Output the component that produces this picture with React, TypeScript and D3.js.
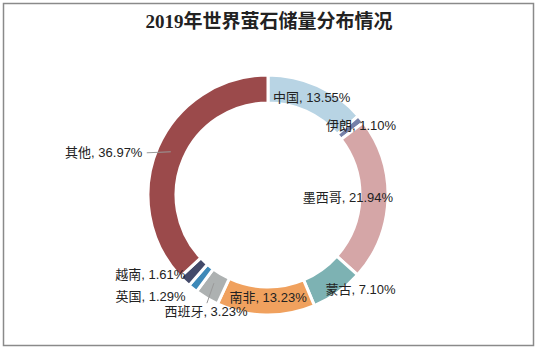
import React from "react";
import * as d3 from "d3";

const countries = ["中国", "伊朗", "墨西哥", "蒙古", "南非", "西班牙", "英国", "越南", "其他"];
const shares = [13.55, 1.1, 21.94, 7.1, 13.23, 3.23, 1.29, 1.61, 36.97];
const colors = ["#b8d4e4", "#7580a8", "#d5a6a7", "#7db2b3", "#f0a15e", "#adb1b1", "#3e89b8", "#434a6a", "#9b4a4b"];
// label offsets from slice centroid (dx, dy)
const labelDx = [0, 11, -26, 31, 2, -8, -51, -44, -67];
const labelDy = [-1, -2, -2, 8, -4, 25, 19, 3, 0];
const leader = [false, false, false, false, false, true, false, false, true];

const title = "2019年世界萤石储量分布情况";

export default function App() {
  const W = 539, H = 354;
  const cx = 268, cy = 195, outerR = 120, innerR = 92;
  const pie = d3.pie<number>().value((d) => d).sort(null)(shares);
  const arc = d3.arc<d3.PieArcDatum<number>>().innerRadius(innerR).outerRadius(outerR);
  const fmt = (v: number) => v.toFixed(2) + "%";
  return (
    <svg width={W} height={H} style={{ position: "absolute", left: 0, top: 0 }}>
      <rect x={3.5} y={3.5} width={530} height={342} fill="#fff" stroke="#8a8a8a" strokeWidth={1.5} />
      <text x={269} y={28} textAnchor="middle" fontFamily="'Liberation Serif', 'Noto Sans CJK SC', serif" fontWeight="bold" fontSize={19} fill="#222">{title}</text>
      <g transform={`translate(${cx},${cy})`}>
        {pie.map((p, i) => (
          <path key={i} d={arc(p) || ""} fill={colors[i]} stroke="#fff" strokeWidth={3} />
        ))}
        {pie.map((p, i) => {
          const [x, y] = arc.centroid(p);
          const lx = x + labelDx[i], ly = y + labelDy[i];
          const label = `${countries[i]}, ${fmt(shares[i])}`;
          let line = null;
          if (leader[i]) {
            if (i === 8) {
              line = <line x1={x} y1={y - 1} x2={lx + 43} y2={ly} stroke="#9a9a9a" strokeWidth={1} />;
            } else {
              line = <line x1={x} y1={y - 3} x2={lx + 1} y2={ly - 8} stroke="#9a9a9a" strokeWidth={1} />;
            }
          }
          return (
            <g key={"l" + i}>
              {line}
              <text x={lx} y={ly} dy="0.35em" textAnchor="middle" fontFamily="'Liberation Sans', 'Noto Sans CJK SC', sans-serif" fontSize={13} fill="#222">{label}</text>
            </g>
          );
        })}
      </g>
    </svg>
  );
}
